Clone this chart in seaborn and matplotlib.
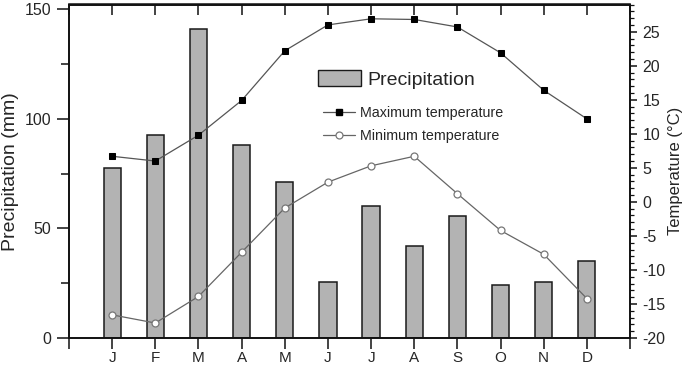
import matplotlib
matplotlib.use("Agg")
import matplotlib.pyplot as plt
from matplotlib.ticker import MultipleLocator
from matplotlib.patches import Patch
from matplotlib.lines import Line2D
import seaborn as sns
import pandas as pd
import numpy as np

months = ["J", "F", "M", "A", "M", "J", "J", "A", "S", "O", "N", "D"]
precip = [77.8, 92.7, 140.9, 88.0, 71.0, 25.5, 60.2, 42.0, 55.5, 24.2, 25.5, 35.1]
tmax = [6.7, 6.0, 9.8, 14.9, 22.2, 26.0, 26.9, 26.8, 25.7, 21.9, 16.4, 12.2]
tmin = [-16.6, -17.8, -13.9, -7.4, -0.9, 2.9, 5.3, 6.7, 1.2, -4.2, -7.7, -14.2]

df = pd.DataFrame({"idx": np.arange(len(months)), "precip": precip,
                   "tmax": tmax, "tmin": tmin})

sns.set_theme(style="ticks")
plt.rcParams["font.family"] = ["Liberation Sans", "DejaVu Sans"]
plt.rcParams["axes.unicode_minus"] = False

fig = plt.figure(figsize=(6.92, 3.67), dpi=100)
ax = fig.add_axes([69/692, 29/367, (630-69)/692, (338-4.5)/367])

sns.barplot(data=df, x="idx", y="precip", native_scale=True, width=0.4,
            color="#b3b3b3", edgecolor="#1a1a1a", linewidth=1.1,
            saturation=1, ax=ax, zorder=2)
ax.set_xlim(-1, 12)
ax.set_ylim(0, 152.2)
tick_pos = list(range(-1, len(months) + 1))
ax.set_xticks(tick_pos)
ax.set_xticklabels([""] + months + [""])
ax.yaxis.set_major_locator(MultipleLocator(50))
ax.yaxis.set_minor_locator(MultipleLocator(25))
ax.set_xlabel("")
ax.set_ylabel("Precipitation (mm)", fontsize=14, labelpad=4)
ax.tick_params(axis="y", which="major", length=9, width=1.1, pad=4,
               labelsize=11.5, direction="out", color="#111")
ax.tick_params(axis="y", which="minor", length=6, width=1.1, direction="out",
               color="#111")
ax.tick_params(axis="x", length=8.0, width=1.1, pad=1.5, labelsize=11,
               direction="out", color="#111")
for s in ax.spines.values():
    s.set_linewidth(1.2)
    s.set_color("#111")
    s.set_visible(True)

sec = ax.secondary_xaxis("top")
sec.set_xticks(tick_pos)
sec.tick_params(direction="in", length=8, width=1.1, labeltop=False,
                color="#111")
sec.spines["top"].set_linewidth(1.2)

ax2 = ax.twinx()
sns.lineplot(data=df, x="idx", y="tmax", ax=ax2, color="#555555",
             linewidth=0.9, marker="s", markersize=4.2,
             markerfacecolor="black", markeredgecolor="black", zorder=3)
sns.lineplot(data=df, x="idx", y="tmin", ax=ax2, color="#666666",
             linewidth=0.9, marker="o", markersize=5.0,
             markerfacecolor="white", markeredgecolor="#777777",
             markeredgewidth=0.9, zorder=3)
ax2.set_ylim(-20, 29)
ax2.yaxis.set_major_locator(MultipleLocator(5))
ax2.yaxis.set_minor_locator(MultipleLocator(1))
ax2.set_ylabel("Temperature (\u00b0C)", fontsize=12, labelpad=2)
ax2.tick_params(axis="y", which="major", length=5, width=1.1, pad=4,
                labelsize=11.5, direction="out", color="#111")
ax2.tick_params(axis="y", which="minor", length=3, width=0.9,
                direction="out", color="#111")
ax2.set_xlabel("")
for s in ax2.spines.values():
    s.set_linewidth(1.2)
    s.set_color("#111")

h_p = Patch(facecolor="#b3b3b3", edgecolor="#1a1a1a", linewidth=1.0)
leg1 = fig.legend(handles=[h_p], labels=["Precipitation"], loc="center left",
                  bbox_to_anchor=(318/692, 1 - 79.5/367), frameon=False,
                  fontsize=14, handlelength=2.2, handleheight=0.88,
                  handletextpad=0.36, borderpad=0, borderaxespad=0)
h_max = Line2D([], [], color="#555555", linewidth=0.9, marker="s",
               markersize=4.2, markerfacecolor="black", markeredgecolor="black")
h_min = Line2D([], [], color="#666666", linewidth=0.9, marker="o",
               markersize=5.0, markerfacecolor="white",
               markeredgecolor="#777777", markeredgewidth=0.9)
leg2 = fig.legend(handles=[h_max, h_min],
                  labels=["Maximum temperature", "Minimum temperature"],
                  loc="center left", bbox_to_anchor=(323/692, 1 - 124.5/367),
                  frameon=False, fontsize=10.3, handlelength=2.24,
                  handletextpad=0.35, labelspacing=0.6, borderpad=0,
                  borderaxespad=0)

fig.savefig("out.png", dpi=100)
